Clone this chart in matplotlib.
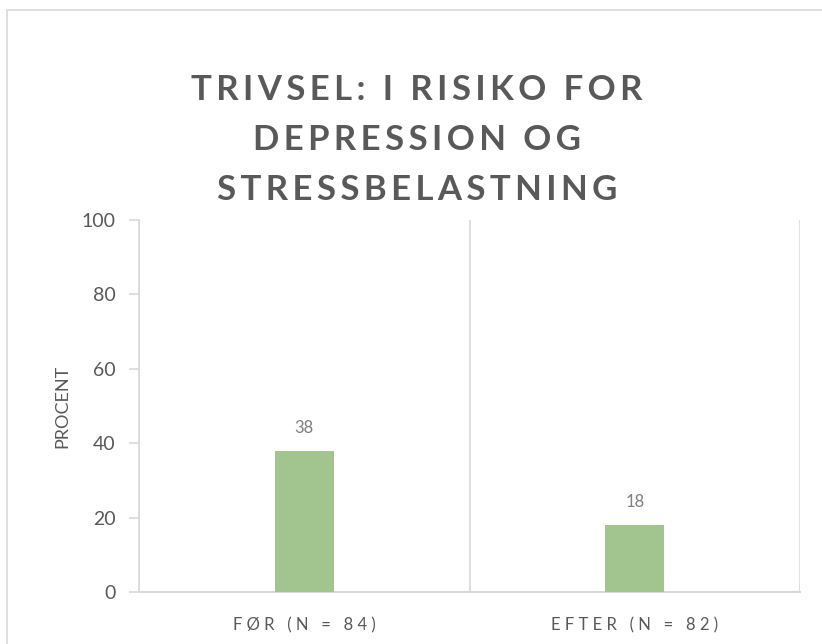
import matplotlib.pyplot as plt
from matplotlib.patches import Rectangle

# chart data
categories = ["FØR (N = 84)", "EFTER (N = 82)"]
values = [38, 18]
title_lines = ["TRIVSEL: I RISIKO FOR", "DEPRESSION OG", "STRESSBELASTNING"]
y_ticks = [0, 20, 40, 60, 80, 100]

FONT = ["Lato", "DejaVu Sans"]
GRID = "#d9d9d9"
TXT = "#595959"


def spaced(s, sep="\u2009"):
    # fake Excel-like letter spacing
    return sep.join(s)


fig = plt.figure(figsize=(8.22, 6.44), dpi=100)

# chart area border (only top/left visible in the crop)
fig.add_artist(Rectangle((7 / 822, -0.1), 1.2, (644 - 10) / 644 + 0.1,
                         transform=fig.transFigure, fill=False,
                         edgecolor="#d9d9d9", lw=1.2))

# title
for i, line in enumerate(title_lines):
    fig.text(417 / 822, 1 - (90 + 50 * i) / 644, spaced(line), ha="center", va="center",
             fontsize=25, fontweight="bold", color=TXT, family=FONT)

ax = fig.add_axes([139 / 822, 52 / 644, 661 / 822, 372 / 644])
x = list(range(len(categories)))
bars = ax.bar(x, values, width=0.18, color="#a2c48e", zorder=3)

for b, v in zip(bars, values):
    ax.text(b.get_x() + b.get_width() / 2, v + 4, str(v), ha="center", va="bottom",
            fontsize=12, color="#7f7f7f", family=FONT)

ax.set_xlim(-0.5, len(categories) - 0.5)
ax.set_ylim(0, 100)
ax.set_yticks(y_ticks)
ax.set_yticklabels([str(t) for t in y_ticks], family=FONT, fontsize=14, color=TXT)
ax.set_xticks(x)
ax.set_xticklabels([spaced(c, " ") for c in categories], family=FONT, fontsize=12, color=TXT)

# vertical gridlines between categories
for g in [-0.5, 0.5, 1.5]:
    ax.axvline(g, color=GRID, lw=1.2, zorder=1)

for s in ["top", "right"]:
    ax.spines[s].set_visible(False)
ax.spines["left"].set_color(GRID)
ax.spines["bottom"].set_color(GRID)
ax.spines["left"].set_linewidth(1.2)
ax.spines["bottom"].set_linewidth(1.5)
ax.tick_params(axis="y", length=7, color=GRID, width=1.2, pad=10)
ax.tick_params(axis="x", length=0, pad=18)

ax.set_ylabel("PROCENT", family=FONT, fontsize=13, color=TXT, labelpad=8)

fig.savefig("out.png", dpi=100)
